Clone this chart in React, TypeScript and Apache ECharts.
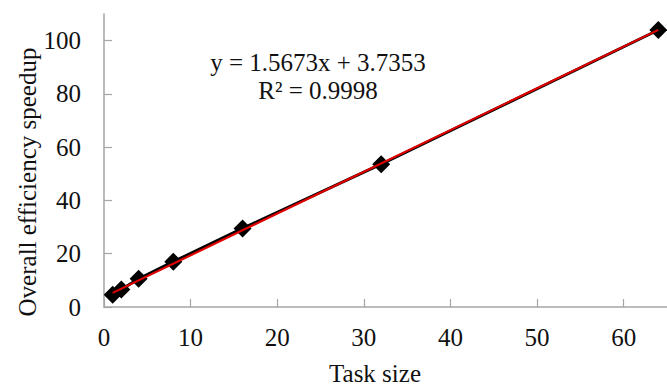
import React, { useEffect, useRef } from "react";
import * as echarts from "echarts";

// Measured speedup per task size
const taskSizes = [1, 2, 4, 8, 16, 32, 64];
const speedups = [4.6, 6.6, 10.6, 17.0, 29.5, 53.6, 104.0];

// Linear trendline coefficients
const slope = 1.5673;
const intercept = 3.7353;
const rSquared = 0.9998;

const xTicks = [0, 10, 20, 30, 40, 50, 60];
const yTicks = [0, 20, 40, 60, 80, 100];

const FONT = "'Liberation Serif', 'Times New Roman', serif";
const FONT_SIZE = 25;
const AXIS_GRAY = "#a6a6a6";

export default function App() {
  const ref = useRef<HTMLDivElement>(null);

  useEffect(() => {
    if (!ref.current) return;
    const chart = echarts.init(ref.current, undefined, { renderer: "svg" });

    const points = taskSizes.map((x, i) => [x, speedups[i]]);
    const xFirst = taskSizes[0];
    const xLast = taskSizes[taskSizes.length - 1];
    const trend = [
      [xFirst, slope * xFirst + intercept],
      [xLast, slope * xLast + intercept],
    ];

    const textStyle = (text: string) => ({
      text,
      fill: "#111",
      font: `${FONT_SIZE}px ${FONT}`,
      align: "center",
      verticalAlign: "middle",
    });

    chart.setOption({
      animation: false,
      backgroundColor: "#ffffff",
      grid: { left: 104, top: 14, width: 564, bottom: 82 },
      xAxis: {
        type: "value",
        min: 0,
        max: 65,
        interval: 10,
        splitLine: { show: false },
        axisLine: { lineStyle: { color: AXIS_GRAY, width: 1.5 } },
        axisTick: { inside: true, length: 8, lineStyle: { color: AXIS_GRAY, width: 1.2 } },
        axisLabel: {
          showMaxLabel: false,
          margin: 18,
          color: "#111",
          fontFamily: FONT,
          fontSize: FONT_SIZE,
          formatter: (v: number) => (xTicks.includes(v) ? String(v) : ""),
        },
      },
      yAxis: {
        type: "value",
        min: 0,
        max: 110,
        interval: 20,
        splitLine: { show: false },
        axisLine: { lineStyle: { color: AXIS_GRAY, width: 1.5 } },
        axisTick: { inside: true, length: 8, lineStyle: { color: AXIS_GRAY, width: 1.2 } },
        axisLabel: {
          showMaxLabel: false,
          margin: 23,
          color: "#111",
          fontFamily: FONT,
          fontSize: FONT_SIZE,
          formatter: (v: number) => (yTicks.includes(v) ? String(v) : ""),
        },
      },
      graphic: [
        { type: "text", x: 27, y: 182, rotation: Math.PI / 2, style: textStyle("Overall efficiency speedup") },
        { type: "text", x: 375, y: 373, style: textStyle("Task size") },
        { type: "text", x: 318, y: 62, style: textStyle(`y = ${slope}x + ${intercept}`) },
        { type: "text", x: 318, y: 90, style: textStyle(`R² = ${rSquared}`) },
      ],
      series: [
        {
          type: "line",
          data: points,
          symbol: "diamond",
          symbolSize: 18,
          itemStyle: { color: "#000" },
          lineStyle: { color: "#000", width: 3 },
          z: 2,
        },
        {
          type: "line",
          data: trend,
          symbol: "none",
          lineStyle: { color: "#e00000", width: 2.2 },
          z: 3,
        },
      ],
    });

    return () => chart.dispose();
  }, []);

  return <div ref={ref} style={{ width: 667, height: 389, position: "absolute", left: 0, top: 0 }} />;
}
